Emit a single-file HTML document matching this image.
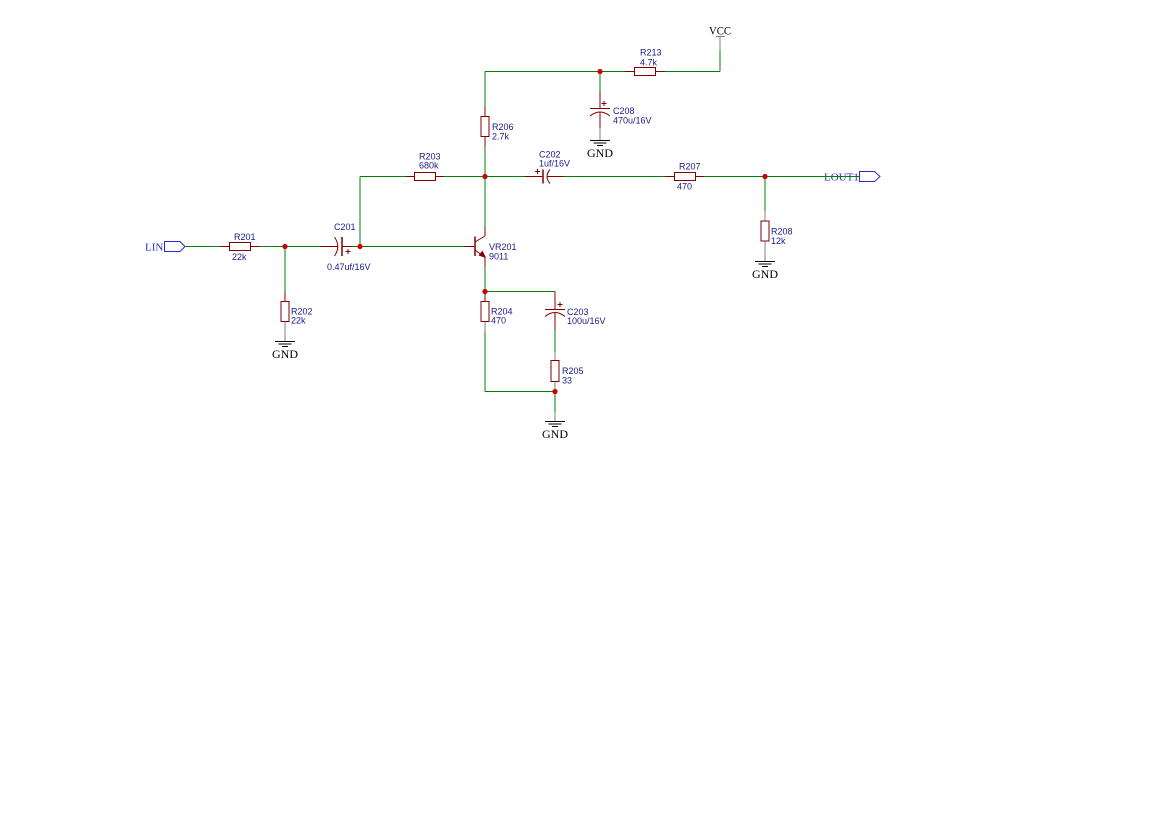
<!DOCTYPE html>
<html>
<head>
<meta charset="utf-8">
<style>
  html,body{margin:0;padding:0;background:#fff;}
  svg{display:block;}
  .lbl{font-family:"Liberation Sans",sans-serif;font-size:9px;fill:#1a1a86;}
  .pwr{font-family:"Liberation Serif",serif;font-size:12px;fill:#000;}
  .port{font-family:"Liberation Serif",serif;font-size:11px;fill:#2a2ad8;}
</style>
</head>
<body>
<svg width="1169" height="827" viewBox="0 0 1169 827" xmlns="http://www.w3.org/2000/svg">
<rect width="1169" height="827" fill="#fff"/>

<!-- ===== Green wires ===== -->
<g stroke="#008000" stroke-width="1" fill="none">
  <!-- input line -->
  <line x1="185" y1="246.5" x2="220" y2="246.5"/>
  <line x1="259" y1="246.5" x2="320" y2="246.5"/>
  <line x1="352" y1="246.5" x2="465" y2="246.5"/>
  <!-- R202 vertical -->
  <line x1="285" y1="246.5" x2="285" y2="292"/>
  <!-- x=360 vertical -->
  <line x1="360" y1="176.5" x2="360" y2="246.5"/>
  <!-- line 176 -->
  <line x1="360" y1="176.5" x2="406" y2="176.5"/>
  <line x1="444" y1="176.5" x2="525" y2="176.5"/>
  <line x1="564" y1="176.5" x2="665" y2="176.5"/>
  <line x1="704" y1="176.5" x2="858" y2="176.5"/>
  <!-- top line 71 -->
  <line x1="485" y1="71.5" x2="625" y2="71.5"/>
  <line x1="665" y1="71.5" x2="720" y2="71.5"/>
  <line x1="720" y1="71.5" x2="720" y2="50"/>
  <!-- x=485 -->
  <line x1="485" y1="71.5" x2="485" y2="107"/>
  <line x1="485" y1="146.5" x2="485" y2="227"/>
  <line x1="485" y1="266.5" x2="485" y2="291.5"/>
  <line x1="485" y1="331.5" x2="485" y2="391.5"/>
  <!-- horizontal 291 and 391 -->
  <line x1="485" y1="291.5" x2="555" y2="291.5"/>
  <line x1="485" y1="391.5" x2="555" y2="391.5"/>
  <!-- C208 -->
  <line x1="600" y1="71.5" x2="600" y2="92"/>
  <!-- C203 / R205 -->
  <line x1="555" y1="330" x2="555" y2="352"/>
  <line x1="555" y1="391.5" x2="555" y2="412"/>
  <!-- R208 -->
  <line x1="765" y1="176.5" x2="765" y2="211"/>
</g>

<!-- ===== Gray leads ===== -->
<g stroke="#808080" stroke-width="1" fill="none">
  <line x1="285" y1="321.5" x2="285" y2="341.5"/>
  <line x1="600" y1="128" x2="600" y2="140.5"/>
  <line x1="720" y1="50" x2="720" y2="36.5"/>
  <line x1="716" y1="36.5" x2="725" y2="36.5"/>
  <line x1="485" y1="321.5" x2="485" y2="331.5"/>
  <line x1="555" y1="352" x2="555" y2="360.5"/>
  <line x1="555" y1="381.5" x2="555" y2="391.5"/>
  <line x1="555" y1="412" x2="555" y2="421.5"/>
  <line x1="765" y1="211" x2="765" y2="221"/>
  <line x1="765" y1="241" x2="765" y2="261.5"/>
</g>

<!-- ===== Ground symbols ===== -->
<g stroke="#000" stroke-width="1" fill="none">
  <!-- R202 -->
  <line x1="275" y1="341.5" x2="295" y2="341.5"/>
  <line x1="278.5" y1="344" x2="291.5" y2="344"/>
  <line x1="282" y1="346.5" x2="288" y2="346.5"/>
  <!-- C208 -->
  <line x1="590" y1="140.5" x2="610" y2="140.5"/>
  <line x1="593.5" y1="143" x2="606.5" y2="143"/>
  <line x1="597" y1="145.5" x2="603" y2="145.5"/>
  <!-- R205 -->
  <line x1="545" y1="421.5" x2="565" y2="421.5"/>
  <line x1="548.5" y1="424" x2="561.5" y2="424"/>
  <line x1="552" y1="426.5" x2="558" y2="426.5"/>
  <!-- R208 -->
  <line x1="755" y1="261.5" x2="775" y2="261.5"/>
  <line x1="758.5" y1="264" x2="771.5" y2="264"/>
  <line x1="762" y1="266.5" x2="768" y2="266.5"/>
</g>
<text class="pwr" x="285" y="358" text-anchor="middle" textLength="26" lengthAdjust="spacingAndGlyphs">GND</text>
<text class="pwr" x="600" y="157" text-anchor="middle" textLength="26" lengthAdjust="spacingAndGlyphs">GND</text>
<text class="pwr" x="555" y="438" text-anchor="middle" textLength="26" lengthAdjust="spacingAndGlyphs">GND</text>
<text class="pwr" x="765" y="278" text-anchor="middle" textLength="26" lengthAdjust="spacingAndGlyphs">GND</text>
<text class="pwr" x="720" y="34.5" text-anchor="middle" textLength="22" lengthAdjust="spacingAndGlyphs">VCC</text>

<!-- ===== Components (dark red) ===== -->
<g stroke="#800000" stroke-width="1" fill="none">
  <!-- R201 -->
  <line x1="220" y1="246.5" x2="229.5" y2="246.5"/>
  <rect x="229.5" y="242.5" width="21" height="8"/>
  <line x1="250.5" y1="246.5" x2="259" y2="246.5"/>
  <!-- R202 -->
  <line x1="285" y1="292" x2="285" y2="301.5"/>
  <rect x="281" y="301.5" width="8" height="20"/>
  <!-- C201 -->
  <line x1="320" y1="246.5" x2="338" y2="246.5"/>
  <path d="M334.5 237 Q341 246.5 334.5 256"/>
  <line x1="342" y1="237" x2="342" y2="256" stroke-width="1.5"/>
  <line x1="342" y1="246.5" x2="352" y2="246.5"/>
  <line x1="345.5" y1="251.5" x2="350.5" y2="251.5"/>
  <line x1="348" y1="249" x2="348" y2="254"/>
  <!-- R203 -->
  <line x1="406" y1="176.5" x2="414.5" y2="176.5"/>
  <rect x="414.5" y="172.5" width="21" height="8"/>
  <line x1="435.5" y1="176.5" x2="444" y2="176.5"/>
  <!-- R206 -->
  <line x1="485" y1="107" x2="485" y2="116.5"/>
  <rect x="481" y="116.5" width="8" height="20"/>
  <line x1="485" y1="136.5" x2="485" y2="146.5"/>
  <!-- C202 -->
  <line x1="525" y1="176.5" x2="543" y2="176.5"/>
  <line x1="543" y1="169.5" x2="543" y2="183.5" stroke-width="1.5"/>
  <path d="M550 169.5 Q544 176.5 550 183.5"/>
  <line x1="547" y1="176.5" x2="564" y2="176.5"/>
  <line x1="535" y1="171.5" x2="540" y2="171.5"/>
  <line x1="537.5" y1="169" x2="537.5" y2="174"/>
  <!-- R213 -->
  <line x1="625" y1="71.5" x2="634.5" y2="71.5"/>
  <rect x="634.5" y="67.5" width="21" height="8"/>
  <line x1="655.5" y1="71.5" x2="665" y2="71.5"/>
  <!-- C208 -->
  <line x1="600" y1="92" x2="600" y2="108.5"/>
  <line x1="590" y1="108.5" x2="610" y2="108.5"/>
  <path d="M590 116 Q600 108 610 116"/>
  <line x1="600" y1="112" x2="600" y2="128"/>
  <line x1="601.5" y1="103.5" x2="606.5" y2="103.5"/>
  <line x1="604" y1="101" x2="604" y2="106"/>
  <!-- R207 -->
  <line x1="665" y1="176.5" x2="674.5" y2="176.5"/>
  <rect x="674.5" y="172.5" width="21" height="8"/>
  <line x1="695.5" y1="176.5" x2="704" y2="176.5"/>
  <!-- R208 -->
  <rect x="761" y="221" width="8" height="20"/>
  <!-- Transistor VR201 -->
  <line x1="465" y1="246.5" x2="475" y2="246.5"/>
  <line x1="475" y1="236.5" x2="475" y2="256" stroke-width="1.5"/>
  <line x1="475" y1="242" x2="485" y2="236"/>
  <line x1="485" y1="236" x2="485" y2="227"/>
  <line x1="475" y1="250" x2="483" y2="256"/>
  <line x1="485" y1="257" x2="485" y2="266.5"/>
  <!-- R204 -->
  <line x1="485" y1="291.5" x2="485" y2="301.5"/>
  <rect x="481" y="301.5" width="8" height="20"/>
  <!-- C203 -->
  <line x1="555" y1="291.5" x2="555" y2="309.5"/>
  <line x1="545" y1="309.5" x2="565" y2="309.5"/>
  <path d="M545 316.5 Q555 308.5 565 316.5"/>
  <line x1="555" y1="312.5" x2="555" y2="330"/>
  <line x1="557.5" y1="304.5" x2="562.5" y2="304.5"/>
  <line x1="560" y1="302" x2="560" y2="307"/>
  <!-- R205 -->
  <rect x="551" y="360.5" width="8" height="21"/>
</g>
<!-- emitter arrow -->
<polygon points="486,258 478.5,255.5 482.5,250.5" fill="#800000"/>

<!-- ===== Junction dots ===== -->
<g fill="#cc0000">
  <circle cx="285" cy="246.5" r="2.6"/>
  <circle cx="360" cy="246.5" r="2.6"/>
  <circle cx="485" cy="176.5" r="2.6"/>
  <circle cx="600" cy="71.5" r="2.6"/>
  <circle cx="765" cy="176.5" r="2.6"/>
  <circle cx="485" cy="291.5" r="2.6"/>
  <circle cx="555" cy="391.5" r="2.6"/>
</g>

<!-- ===== Ports ===== -->
<polygon points="164.5,241.5 180,241.5 185,246.5 180,251.5 164.5,251.5" fill="#fff" stroke="#2a2ad8" stroke-width="1"/>
<text class="port" x="145" y="250.5">LIN</text>
<polygon points="859.5,171.5 874.5,171.5 880,176.5 874.5,181.5 859.5,181.5" fill="#fff" stroke="#2a2ad8" stroke-width="1"/>
<text class="port" x="824" y="180.5">LOUT1</text>
<line x1="824" y1="176.5" x2="859" y2="176.5" stroke="#008000" stroke-width="1"/>

<!-- ===== Labels ===== -->
<text class="lbl" x="234" y="240">R201</text>
<text class="lbl" x="232" y="260">22k</text>
<text class="lbl" x="291" y="314.5">R202</text>
<text class="lbl" x="291" y="323.5">22k</text>
<text class="lbl" x="334" y="230">C201</text>
<text class="lbl" x="327" y="270">0.47uf/16V</text>
<text class="lbl" x="419" y="159.5">R203</text>
<text class="lbl" x="419" y="168.5">680k</text>
<text class="lbl" x="539" y="157.5">C202</text>
<text class="lbl" x="539" y="166.5">1uf/16V</text>
<text class="lbl" x="489" y="250">VR201</text>
<text class="lbl" x="489" y="259.5">9011</text>
<text class="lbl" x="492" y="130">R206</text>
<text class="lbl" x="492" y="139.5">2.7k</text>
<text class="lbl" x="640" y="55.5">R213</text>
<text class="lbl" x="640" y="65.5">4.7k</text>
<text class="lbl" x="613" y="114">C208</text>
<text class="lbl" x="613" y="123.5">470u/16V</text>
<text class="lbl" x="491" y="314.5">R204</text>
<text class="lbl" x="491" y="323.5">470</text>
<text class="lbl" x="567" y="315">C203</text>
<text class="lbl" x="567" y="324">100u/16V</text>
<text class="lbl" x="562" y="374">R205</text>
<text class="lbl" x="562" y="383.5">33</text>
<text class="lbl" x="679" y="169.5">R207</text>
<text class="lbl" x="677" y="189.5">470</text>
<text class="lbl" x="771" y="234.5">R208</text>
<text class="lbl" x="771" y="244">12k</text>
</svg>
</body>
</html>
